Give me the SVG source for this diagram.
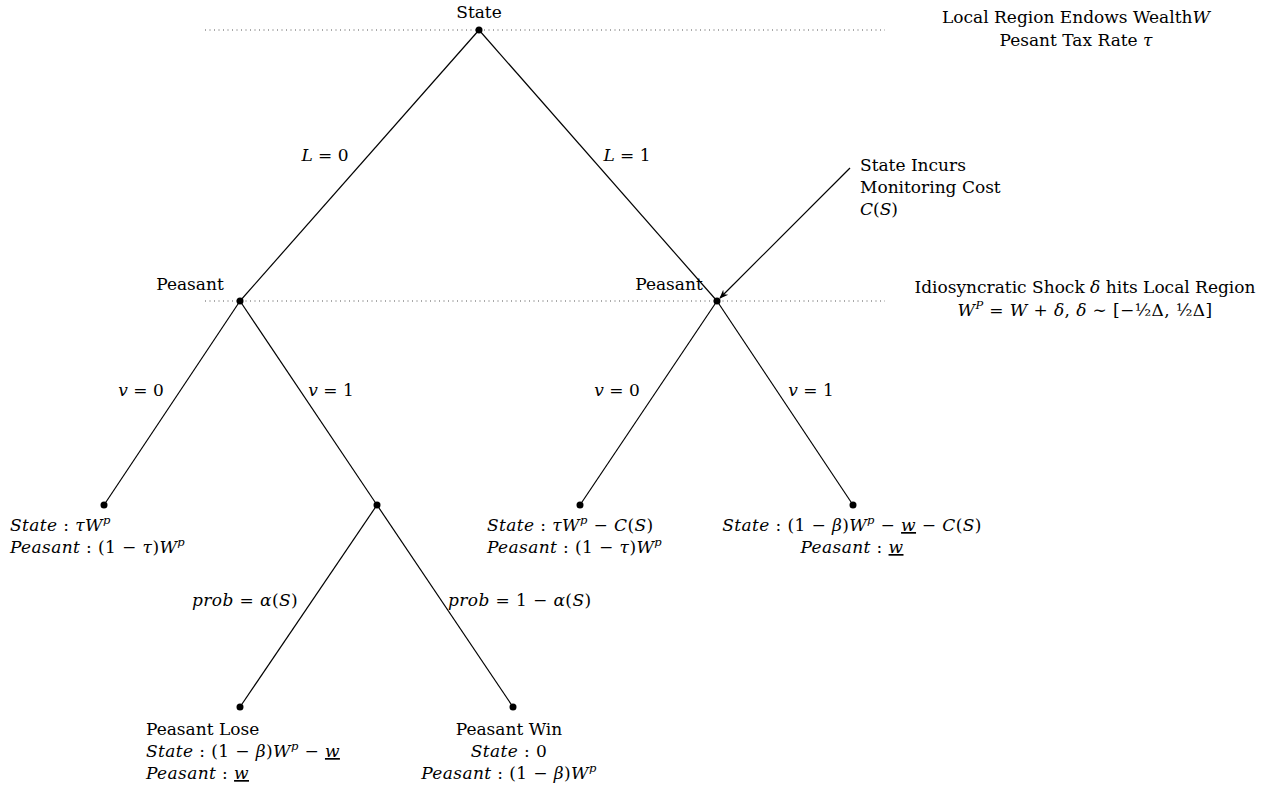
<svg xmlns="http://www.w3.org/2000/svg" width="1280" height="790" viewBox="0 0 1280 790">
<style>
text{font-family:"DejaVu Serif","Liberation Serif",serif;font-size:17px;fill:#000}
.i{font-style:italic}
.sup{font-size:11.5px;font-style:italic}
.u{text-decoration:underline}
.mt{letter-spacing:0.4px}
.e{stroke:#000;stroke-width:1.2;fill:none}
.dot{stroke:#555;stroke-width:1;stroke-dasharray:1 3.5;fill:none}
.m{text-anchor:middle}
</style>
<defs>
<marker id="ah" viewBox="0 0 10 10" refX="9" refY="5" markerWidth="9" markerHeight="9" orient="auto" markerUnits="userSpaceOnUse">
<path d="M0,1 L10,5 L0,9 L3,5 Z" fill="#000"/>
</marker>
</defs>
<rect width="1280" height="790" fill="#fff"/>
<g id="stagelines">
<line class="dot" x1="205" y1="30" x2="885" y2="30"/>
<line class="dot" x1="205" y1="301" x2="885" y2="301"/>
</g>
<g id="connectors">
<line class="e" x1="479" y1="30" x2="240" y2="301"/>
<line class="e" x1="479" y1="30" x2="717" y2="301"/>
<line class="e" x1="240" y1="301" x2="104" y2="505"/>
<line class="e" x1="240" y1="301" x2="377" y2="505"/>
<line class="e" x1="717" y1="301" x2="580" y2="505"/>
<line class="e" x1="717" y1="301" x2="853" y2="505"/>
<line class="e" x1="377" y1="505" x2="240" y2="707"/>
<line class="e" x1="377" y1="505" x2="513" y2="707"/>
<line class="e" x1="850" y1="168" x2="720" y2="298" marker-end="url(#ah)"/>
<text x="325" y="161" class="m"><tspan class="i">L</tspan> = 0</text>
<text x="627" y="161" class="m"><tspan class="i">L</tspan> = 1</text>
<text x="141" y="396" class="m"><tspan class="i">v</tspan> = 0</text>
<text x="331" y="396" class="m"><tspan class="i">v</tspan> = 1</text>
<text x="617" y="396" class="m"><tspan class="i">v</tspan> = 0</text>
<text x="811" y="396" class="m"><tspan class="i">v</tspan> = 1</text>
<text x="192" y="606" class="mt"><tspan class="i">prob</tspan> = <tspan class="i">α</tspan>(<tspan class="i">S</tspan>)</text>
<text x="448" y="606" class="mt"><tspan class="i">prob</tspan> = 1 − <tspan class="i">α</tspan>(<tspan class="i">S</tspan>)</text>
</g>
<g id="root">
<circle cx="479" cy="30" r="3.5"/>
<text x="479" y="18" class="m">State</text>
</g>
<g id="peasantL">
<circle cx="240" cy="301" r="3.5"/>
<text x="190" y="290" class="m">Peasant</text>
</g>
<g id="peasantR">
<circle cx="717" cy="301" r="3.5"/>
<text x="669" y="290" class="m">Peasant</text>
</g>
<g id="leaf1">
<circle cx="104" cy="505" r="3.5"/>
<text x="10" y="531" class="mt"><tspan class="i">State</tspan> : <tspan class="i">τW</tspan><tspan class="sup" dy="-7">p</tspan></text>
<text x="10" y="553" class="mt"><tspan class="i">Peasant</tspan> : (1 − <tspan class="i">τ</tspan>)<tspan class="i">W</tspan><tspan class="sup" dy="-7">p</tspan></text>
</g>
<g id="chance">
<circle cx="377" cy="505" r="3.5"/>
</g>
<g id="leaf2">
<circle cx="580" cy="505" r="3.5"/>
<text x="487" y="531" class="mt"><tspan class="i">State</tspan> : <tspan class="i">τW</tspan><tspan class="sup" dy="-7">p</tspan><tspan dy="7"> − </tspan><tspan class="i">C</tspan>(<tspan class="i">S</tspan>)</text>
<text x="487" y="553" class="mt"><tspan class="i">Peasant</tspan> : (1 − <tspan class="i">τ</tspan>)<tspan class="i">W</tspan><tspan class="sup" dy="-7">p</tspan></text>
</g>
<g id="leaf3">
<circle cx="853" cy="505" r="3.5"/>
<text x="852" y="531" class="m mt"><tspan class="i">State</tspan> : (1 − <tspan class="i">β</tspan>)<tspan class="i">W</tspan><tspan class="sup" dy="-7">p</tspan><tspan dy="7"> − </tspan><tspan class="i u">w</tspan> − <tspan class="i">C</tspan>(<tspan class="i">S</tspan>)</text>
<text x="852" y="553" class="m mt"><tspan class="i">Peasant</tspan> : <tspan class="i u">w</tspan></text>
</g>
<g id="leafLose">
<circle cx="240" cy="707" r="3.5"/>
<text x="146" y="735">Peasant Lose</text>
<text x="146" y="757" class="mt"><tspan class="i">State</tspan> : (1 − <tspan class="i">β</tspan>)<tspan class="i">W</tspan><tspan class="sup" dy="-7">p</tspan><tspan dy="7"> − </tspan><tspan class="i u">w</tspan></text>
<text x="146" y="779" class="mt"><tspan class="i">Peasant</tspan> : <tspan class="i u">w</tspan></text>
</g>
<g id="leafWin">
<circle cx="513" cy="707" r="3.5"/>
<text x="509" y="735" class="m">Peasant Win</text>
<text x="509" y="757" class="m mt"><tspan class="i">State</tspan> : 0</text>
<text x="509" y="779" class="m mt"><tspan class="i">Peasant</tspan> : (1 − <tspan class="i">β</tspan>)<tspan class="i">W</tspan><tspan class="sup" dy="-7">p</tspan></text>
</g>
<g id="noteTop">
<text x="1076" y="23" class="m">Local Region Endows Wealth<tspan class="i">W</tspan></text>
<text x="1076" y="46" class="m">Pesant Tax Rate <tspan class="i">τ</tspan></text>
</g>
<g id="noteCost">
<text x="860" y="171">State Incurs</text>
<text x="860" y="193">Monitoring Cost</text>
<text x="860" y="215"><tspan class="i">C</tspan>(<tspan class="i">S</tspan>)</text>
</g>
<g id="noteShock">
<text x="1085" y="293" class="m">Idiosyncratic Shock <tspan class="i">δ</tspan> hits Local Region</text>
<text x="1085" y="316" class="m mt"><tspan class="i">W</tspan><tspan class="sup" dy="-7">P</tspan><tspan dy="7"> = </tspan><tspan class="i">W</tspan> + <tspan class="i">δ</tspan>, <tspan class="i">δ</tspan> ∼ [−½Δ, ½Δ]</text>
</g>
</svg>
